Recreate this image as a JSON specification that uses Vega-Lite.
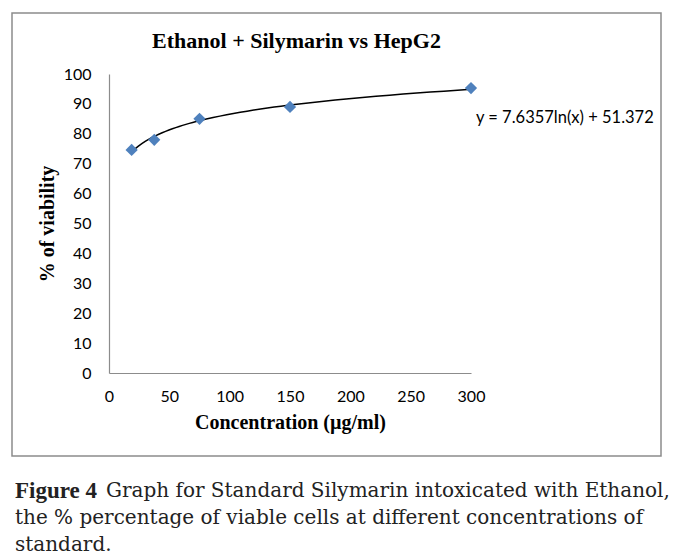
{
  "$schema": "https://vega.github.io/schema/vega-lite/v6.json",
  "padding": {"left": 11, "top": 12, "right": 0, "bottom": 0},
  "background": "white",
  "config": {"view": {"stroke": null}, "concat": {"spacing": 20}},
  "vconcat": [
    {
      "width": 649,
      "height": 443,
      "view": {"stroke": "#8c8c8c", "strokeWidth": 1.5},
      "title": {"text": "Ethanol + Silymarin vs HepG2", "font": "Liberation Serif", "fontSize": 22, "fontWeight": "bold", "color": "black", "orient": "top", "anchor": "middle", "offset": -40, "dx": -40},
      "data": {"values": [
        {"conc": 18.75, "viability": 74.6},
        {"conc": 37.5, "viability": 78.0},
        {"conc": 75, "viability": 85.0},
        {"conc": 150, "viability": 89.0},
        {"conc": 300, "viability": 95.3}
      ]},
      "encoding": {
        "x": {"field": "conc", "type": "quantitative",
          "scale": {"domain": [0, 300], "range": [97, 459], "nice": false, "zero": true},
          "axis": {"title": "Concentration (µg/ml)", "offset": -83, "values": [0, 50, 100, 150, 200, 250, 300], "grid": false, "ticks": false, "tickSize": 0, "labelFlush": false, "domainColor": "#8c8c8c", "domainWidth": 1.2, "labelFont": "Lato", "labelFontSize": 16, "labelColor": "black", "labelPadding": 15, "titleFont": "Liberation Serif", "titleFontSize": 20, "titleFontWeight": "bold", "titleColor": "black", "titlePadding": 8}},
        "y": {"field": "viability", "type": "quantitative",
          "scale": {"domain": [0, 100], "range": [360, 61], "nice": false},
          "axis": {"title": "% of viability", "offset": -97, "values": [0, 10, 20, 30, 40, 50, 60, 70, 80, 90, 100], "grid": false, "ticks": false, "tickSize": 0, "domainColor": "#8c8c8c", "domainWidth": 1.2, "labelFont": "Lato", "labelFontSize": 16, "labelColor": "black", "labelPadding": 18, "titleFont": "Liberation Serif", "titleFontSize": 20, "titleFontWeight": "bold", "titleColor": "black", "titlePadding": 6}}
      },
      "layer": [
        {"transform": [{"regression": "viability", "on": "conc", "method": "log"}],
         "mark": {"type": "line", "color": "black", "strokeWidth": 1.5}},
        {"mark": {"type": "point", "shape": "diamond", "filled": true, "color": "#4F81BD", "size": 150, "opacity": 1}},
        {"data": {"values": [{"conc": 300, "viability": 85.3, "label": "y = 7.6357ln(x) + 51.372"}]},
         "mark": {"type": "text", "align": "left", "baseline": "middle", "dx": 5, "font": "Lato", "fontSize": 16.5, "color": "black"},
         "encoding": {"text": {"field": "label"}}}
      ]
    },
    {
      "width": 649,
      "height": 81,
      "data": {"values": [
        {"line": 1, "part": "bold", "text": "Figure 4"},
        {"line": 1, "part": "rest", "text": "Graph for Standard Silymarin intoxicated with Ethanol,"},
        {"line": 2, "part": "rest", "text": "the % percentage of viable cells at different concentrations of"},
        {"line": 3, "part": "rest", "text": "standard."}
      ]},
      "encoding": {
        "y": {"field": "line", "type": "ordinal", "axis": null, "scale": {"type": "point", "padding": 0.5}},
        "x": {"value": 3},
        "text": {"field": "text"}
      },
      "layer": [
        {"transform": [{"filter": "datum.part == 'bold'"}],
         "mark": {"type": "text", "align": "left", "baseline": "middle", "font": "Liberation Serif", "fontSize": 23, "fontWeight": "bold", "color": "#222"}},
        {"transform": [{"filter": "datum.part == 'rest' && datum.line == 1"}],
         "mark": {"type": "text", "align": "left", "baseline": "middle", "dx": 91, "font": "DejaVu Serif", "fontSize": 20, "color": "#222"}},
        {"transform": [{"filter": "datum.part == 'rest' && datum.line != 1"}],
         "mark": {"type": "text", "align": "left", "baseline": "middle", "font": "DejaVu Serif", "fontSize": 20, "color": "#222"}}
      ]
    }
  ]
}
